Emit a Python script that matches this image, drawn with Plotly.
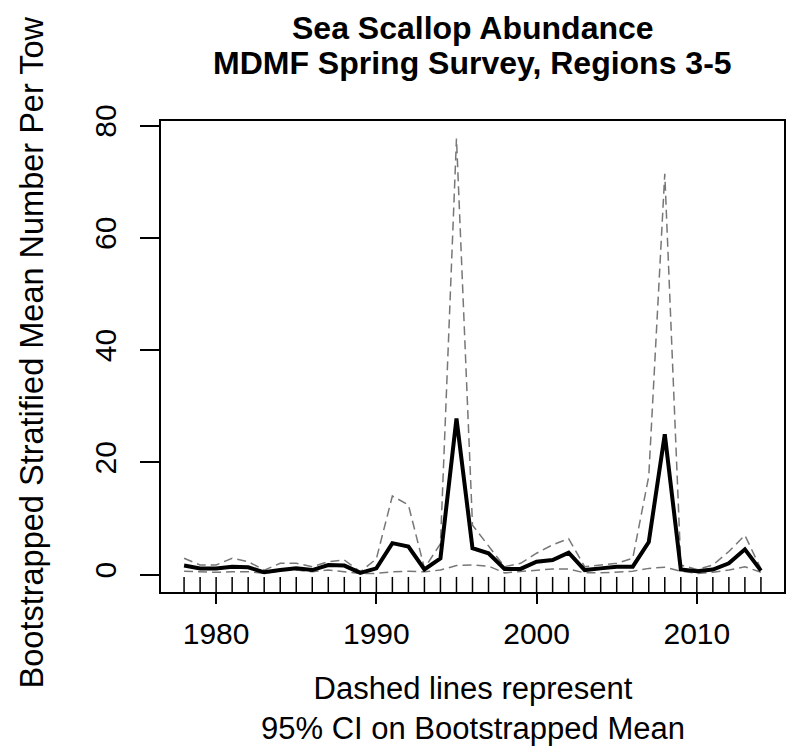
import plotly.graph_objects as go

years = list(range(1978, 2015))
mean_vals = [1.6, 1.1, 1.1, 1.4, 1.3, 0.4, 0.8, 1.1, 0.8, 1.7, 1.6, 0.3, 1.1,
             5.6, 5.0, 0.9, 2.9, 27.8, 4.7, 3.8, 1.0, 1.0, 2.3, 2.6, 3.9, 0.8,
             1.1, 1.4, 1.4, 5.8, 25.0, 0.9, 0.6, 0.9, 2.0, 4.5, 0.7]
upper_ci = [2.9, 1.7, 1.7, 2.9, 2.3, 0.8, 2.0, 2.0, 1.4, 2.3, 2.6, 0.5, 2.8,
            14.0, 12.4, 1.1, 5.5, 77.7, 8.8, 5.0, 1.4, 2.0, 3.8, 5.3, 6.4, 1.4,
            1.7, 2.0, 2.9, 17.5, 71.4, 1.7, 0.9, 1.7, 4.1, 7.0, 1.0]
lower_ci = [0.6, 0.5, 0.4, 0.5, 0.5, 0.2, 0.7, 0.8, 0.5, 0.8, 0.5, 0.2, 0.2,
            0.5, 0.6, 0.5, 0.8, 1.6, 1.7, 1.5, 0.3, 0.5, 0.7, 1.0, 1.0, 0.3,
            0.3, 0.4, 0.6, 1.1, 1.3, 0.6, 0.2, 0.4, 0.8, 1.4, 0.4]
x_ticks = [1980, 1990, 2000, 2010]
y_ticks = [0, 20, 40, 60, 80]

title_lines = ["Sea Scallop Abundance", "MDMF Spring Survey, Regions 3-5"]
y_title = "Bootstrapped Stratified Mean Number Per Tow"
x_title = "Dashed lines represent<br>95% CI on Bootstrapped Mean"

FONT = "Liberation Sans, Arial, sans-serif"

# R-style 4% axis extension
xmin, xmax = min(years), max(years)
xr = xmax - xmin
ymin, ymax = 0, max(upper_ci)
yr = ymax - ymin

fig = go.Figure()
dash_style = "9px,5px"
fig.add_trace(go.Scatter(x=years, y=upper_ci, mode="lines",
                         line=dict(color="#777777", width=1.5, dash=dash_style),
                         showlegend=False, hoverinfo="skip"))
fig.add_trace(go.Scatter(x=years, y=lower_ci, mode="lines",
                         line=dict(color="#777777", width=1.5, dash=dash_style),
                         showlegend=False, hoverinfo="skip"))
fig.add_trace(go.Scatter(x=years, y=mean_vals, mode="lines",
                         line=dict(color="black", width=4),
                         showlegend=False))

# rug marks at each survey year
for yv in years:
    fig.add_shape(type="line", xref="x", yref="y domain", x0=yv, x1=yv,
                  y0=0, y1=0.032, line=dict(color="black", width=1.5))

fig.update_layout(
    width=788, height=751, autosize=False,
    margin=dict(l=161, r=2, t=121, b=159, pad=0),
    plot_bgcolor="white", paper_bgcolor="white",
    font=dict(family=FONT, color="black"),
)
fig.update_xaxes(range=[xmin - 0.04 * xr, xmax + 0.04 * xr],
                 tickvals=x_ticks, ticks="outside", ticklen=10, tickwidth=1.5,
                 tickcolor="black", showline=True, linecolor="black",
                 linewidth=1.5, mirror=True, showgrid=False, zeroline=False,
                 ticklabelstandoff=4,
                 tickfont=dict(size=30, family=FONT))
fig.update_yaxes(range=[ymin - 0.04 * yr, ymax + 0.04 * yr],
                 tickvals=y_ticks, ticks="outside", ticklen=19, tickwidth=1.5,
                 tickcolor="black", showline=True, linecolor="black",
                 linewidth=1.5, mirror=True, showgrid=False, zeroline=False,
                 tickangle=-90, ticklabelstandoff=12,
                 tickfont=dict(size=30, family=FONT))

ph = 751 - 121 - 159
pw = 788 - 161 - 2
fig.add_annotation(text="<b>%s</b>" % title_lines[0], xref="paper", yref="paper",
                   x=0.5, y=1 + (121 - 28) / ph, xanchor="center", yanchor="middle",
                   showarrow=False, font=dict(size=32, family=FONT))
fig.add_annotation(text="<b>%s</b>" % title_lines[1], xref="paper", yref="paper",
                   x=0.5, y=1 + (121 - 63) / ph, xanchor="center", yanchor="middle",
                   showarrow=False, font=dict(size=32, family=FONT))
fig.add_annotation(text=y_title, xref="paper", yref="paper",
                   x=(32 - 161) / pw, y=(592 - 352) / ph, xanchor="center", yanchor="middle",
                   textangle=-90, showarrow=False, font=dict(size=32.5, family=FONT))
fig.add_annotation(text=x_title, xref="paper", yref="paper",
                   x=0.5, y=(592 - 708) / ph, xanchor="center", yanchor="middle",
                   showarrow=False, font=dict(size=31, family=FONT))

fig.write_html("out.html")
